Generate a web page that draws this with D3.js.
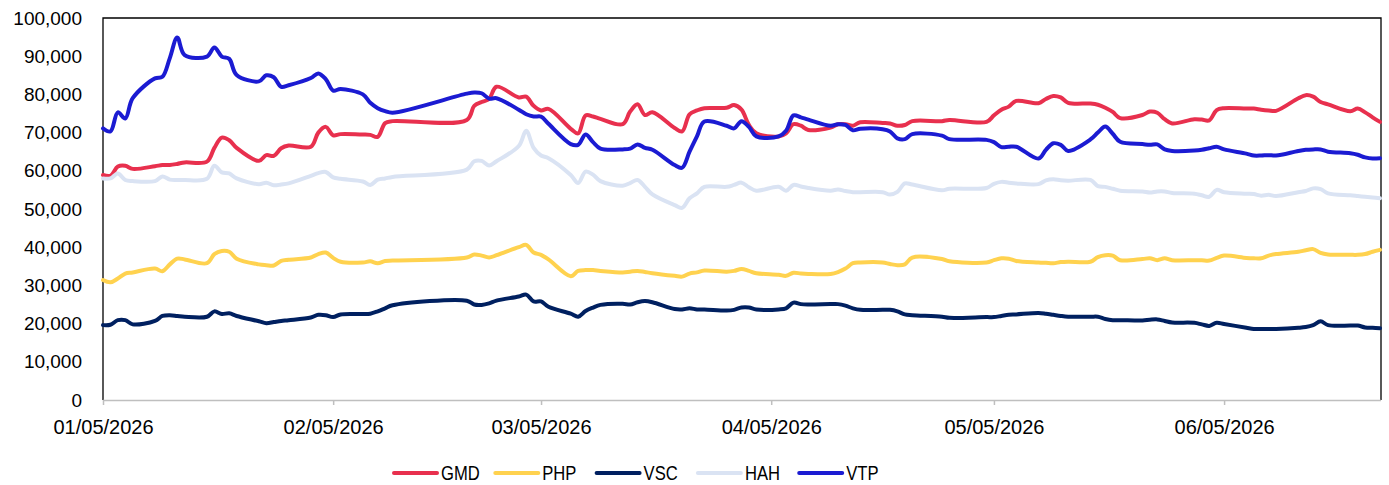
<!DOCTYPE html>
<html>
<head>
<meta charset="utf-8">
<script src="https://cdn.jsdelivr.net/npm/d3@7"></script>
<style>
  body { margin: 0; background: #fff; }
  svg text { font-family: "Liberation Sans", Arial, sans-serif; fill: #000; }
</style>
</head>
<body>
<div id="chart"></div>
<script>

// trading days (Tet and April/May holidays are missing)
const dates = [
  "2026-01-05","2026-01-06","2026-01-07","2026-01-08","2026-01-09",
  "2026-01-12","2026-01-13","2026-01-14","2026-01-15","2026-01-16",
  "2026-01-19","2026-01-20","2026-01-21","2026-01-22","2026-01-23",
  "2026-01-26","2026-01-27","2026-01-28","2026-01-29","2026-01-30",
  "2026-02-02","2026-02-03","2026-02-04","2026-02-05","2026-02-06",
  "2026-02-09","2026-02-10","2026-02-11","2026-02-12","2026-02-13",
  "2026-02-23","2026-02-24","2026-02-25","2026-02-26","2026-02-27",
  "2026-03-02","2026-03-03","2026-03-04","2026-03-05","2026-03-06",
  "2026-03-09","2026-03-10","2026-03-11","2026-03-12","2026-03-13",
  "2026-03-16","2026-03-17","2026-03-18","2026-03-19","2026-03-20",
  "2026-03-23","2026-03-24","2026-03-25","2026-03-26","2026-03-27",
  "2026-03-30","2026-03-31","2026-04-01","2026-04-02","2026-04-03",
  "2026-04-06","2026-04-07","2026-04-08","2026-04-09","2026-04-10",
  "2026-04-13","2026-04-14","2026-04-15","2026-04-16","2026-04-17",
  "2026-04-20","2026-04-21","2026-04-22","2026-04-23","2026-04-24",
  "2026-04-28","2026-04-29",
  "2026-05-04","2026-05-05","2026-05-06","2026-05-07","2026-05-08",
  "2026-05-11","2026-05-12","2026-05-13","2026-05-14","2026-05-15",
  "2026-05-18","2026-05-19","2026-05-20","2026-05-21","2026-05-22",
  "2026-05-25","2026-05-26","2026-05-27","2026-05-28","2026-05-29",
  "2026-06-01","2026-06-02","2026-06-03","2026-06-04","2026-06-05",
  "2026-06-08","2026-06-09","2026-06-10","2026-06-11","2026-06-12",
  "2026-06-15","2026-06-16","2026-06-17","2026-06-18","2026-06-19",
  "2026-06-22","2026-06-23","2026-06-24","2026-06-25","2026-06-26"
];

const gmd = [
  58900,58700,61100,61300,60500, 61200,61500,61500,61800,62200,
  62400,66000,68700,68000,66000, 62600,64100,63900,65900,66600,
  66300,70000,71500,69300,69600, 69500,69400,68900,72500,73000,
  73300,77000,78000,78800,82000, 79200,79400,77000,75800,76200,
  71000,69800,74500,74200,73600, 72200,75500,77400,74600,75300,
  71200,70300,74800,75800,76400, 76500,77200,76000,72000,69800,
  69000,69800,72200,71800,70700, 71300,72200,72200,71800,72700,
  72500,72400,71800,72000,73000, 73000,73300,
  72800,74500,76000,76800,78300, 77700,78800,79600,79200,77800,
  77600,77300,76500,75400,73800, 74600,75500,75200,73500,72400,
  73500,73400,73200,75900,76400, 76300,76300,76000,75800,75700,
  79000,79800,79400,78000,77400, 75600,76300,75300,74000,72800
];

const php = [
  31400,30800,31800,33100,33400, 34400,33700,35500,37000,36800,
  35800,38200,39000,38800,37000, 35500,35300,35200,36400,36700,
  37300,38200,38600,37200,36200, 36000,36300,35800,36400,36500,
  37300,38100,37800,37300,37900, 40000,40600,38600,38000,36800,
  32400,33800,34000,34000,33800, 33400,33600,33800,33500,33200,
  32500,32300,33100,33400,33900, 33600,33800,34300,33800,33200,
  32800,32500,33300,33100,33000, 33000,33500,34400,35800,36000,
  36000,35600,35300,35500,37300, 36900,36300,
  36000,36600,37100,37000,36400, 36000,35900,35800,36100,36200,
  36200,37400,37900,37800,36600, 36900,37100,36600,37100,36600,
  36600,36600,36500,37200,37800, 37200,37100,37100,37800,38200,
  38800,39200,39500,38500,38100, 38000,38000,38200,38800,39300
];

const vsc = [
  19600,19700,20900,20900,19800, 20700,22000,22200,22000,21800,
  21800,23200,22500,22700,22000, 20600,20100,20400,20700,20900,
  21600,22300,22200,21700,22400, 22500,22600,23200,24000,24800,
  26000,25000,24900,25300,26000, 27100,27600,25800,25800,24400,
  22600,21800,23300,24200,24900, 25200,25000,25600,25900,25600,
  23800,23700,24000,23700,23700, 23400,23600,24200,24200,23700,
  23700,24000,25500,25100,25000, 25100,25100,24700,24000,23600,
  23600,23600,23200,22400,22200, 21800,21500,
  21700,21700,22000,22300,22400, 22800,22600,22300,22000,21800,
  21800,21800,21200,20900,20900, 20800,21000,21100,20700,20300,
  20200,19800,19400,20200,19900, 18900,18600,18600,18600,18600,
  18900,19100,19600,20600,19600, 19500,19500,19000,18900,18800
];

const hah = [
  58000,58000,59300,57600,57300, 57300,58500,57700,57600,57600,
  57900,61300,59600,59300,58000, 56500,56900,56200,56400,56700,
  58700,59400,59700,58300,57900, 57200,56300,57700,58000,58400,
  60300,62500,62600,61400,62500, 66500,70500,66000,64000,63300,
  58900,56800,59800,59000,57300, 56100,56800,57600,55800,53800,
  51000,50300,52800,54100,55800, 55800,56300,56900,55700,54800,
  55800,54800,56300,55900,55500, 54800,55100,54700,54400,54400,
  54400,53800,54500,56700,56400, 54900,55300,
  55500,56600,57100,56900,56700, 56500,57500,57800,57500,57400,
  57600,56000,55800,55300,54800, 54600,54300,54600,54600,54200,
  54000,53600,53200,55000,54400, 54000,53900,53500,53700,53400,
  54400,54700,55400,55200,54100, 53600,53400,53200,53000,52800
];

const vtp = [
  71100,70300,75300,73700,79000, 84200,84600,89500,94900,90300,
  89900,92300,89900,89300,85100, 83400,85000,84500,82000,82400,
  84300,85500,84000,81000,81400, 80000,77800,76400,75600,75200,
  80200,80500,80300,78900,79000, 76000,74800,74200,74200,72300,
  67000,66800,69500,67500,65800, 65600,65800,66900,66000,65500,
  61500,60800,65000,69000,72900, 71800,71100,73000,71500,69000,
  69000,70500,74500,74000,73400, 71800,72200,72000,70600,71000,
  70900,70300,68500,68300,69600, 69200,68300,
  68100,67500,66200,66300,66300, 63200,65500,67200,66800,65200,
  68200,70000,71600,69700,67600, 67000,66800,66900,65600,65200,
  65300,65500,65900,66300,65600, 64500,64000,64000,64100,64000,
  65200,65500,65600,65600,65000, 64600,64200,63500,63200,63300
];

const seriesNames = ["GMD", "PHP", "VSC", "HAH", "VTP"];
const seriesValues = [gmd, php, vsc, hah, vtp];
const seriesColors = ["#E8304E", "#FFD24F", "#002060", "#DAE3F3", "#1B1BD2"];

const xTickDates = ["2026-01-05","2026-02-05","2026-03-05","2026-04-05","2026-05-05","2026-06-05"];
const yTicks = [0, 10000, 20000, 30000, 40000, 50000, 60000, 70000, 80000, 90000, 100000];


function drawChart(container) {

    const margin = {top: 18, right: 8, bottom: 85, left: 103};
    const width = 1389 - margin.left - margin.right;
    const height = 485 - margin.top - margin.bottom;

    const parse = d3.utcParse("%Y-%m-%d");
    const days = dates.map(parse);

    let x = d3.scaleUtc()
        .domain([days[0], days[days.length - 1]])
        .range([0, width - 1]);
    let y = d3.scaleLinear().domain([0, 100000]).range([height, 0]);

    const svg = d3.select(container)
        .append("svg")
        .attr("width", width + margin.left + margin.right)
        .attr("height", height + margin.top + margin.bottom);

    const g = svg.append("g")
        .attr("transform", "translate(" + margin.left + "," + margin.top + ")");

    // frame: black top / left / right
    g.append("path")
        .attr("d", "M0," + height + "V0H" + width + "V" + height)
        .attr("fill", "none")
        .attr("stroke", "#000")
        .attr("stroke-width", 1.3);

    // Y axis labels only
    const yAxis = g.append("g")
        .call(d3.axisLeft(y).tickValues(yTicks).tickSize(0).tickPadding(21).tickFormat(d3.format(",")));
    yAxis.select(".domain").remove();
    yAxis.selectAll("text")
        .style("font-size", "19px")
        .style("font-family", "'Liberation Sans', Arial, sans-serif");

    // X axis
    const xAxis = g.append("g")
        .attr("transform", "translate(0," + height + ")")
        .call(d3.axisBottom(x)
            .tickValues(xTickDates.map(parse))
            .tickSizeInner(5).tickSizeOuter(0).tickPadding(15)
            .tickFormat(d3.utcFormat("%m/%d/%Y")));
    xAxis.select(".domain")
        .attr("d", "M0,0.5H" + width)
        .attr("stroke", "#BFBFBF")
        .attr("stroke-width", 1.5);
    xAxis.selectAll(".tick line").attr("stroke", "#BFBFBF").attr("stroke-width", 1.5);
    xAxis.selectAll("text")
        .style("font-size", "20px")
        .style("font-family", "'Liberation Sans', Arial, sans-serif");

    // Define the line
    let valueline = d3.line()
        .x(function (d, i) { return x(days[i]); })
        .y(function (d) { return y(d); })
        .curve(d3.curveCatmullRom.alpha(0.5));

    seriesValues.forEach(function (vals, k) {
        g.append("path")
            .attr("class", "line")
            .attr("d", valueline(vals))
            .attr("fill", "none")
            .attr("stroke", seriesColors[k])
            .attr("stroke-width", 4)
            .attr("stroke-linejoin", "round")
            .attr("stroke-linecap", "round");
    });

    // legend (narrow type, squeezed if no narrow font is there)
    const legend = svg.append("g").attr("transform", "translate(394,473)");
    seriesNames.forEach(function (name, k) {
        const item = legend.append("g").attr("transform", "translate(" + (k * 101.3) + ",0)");
        item.append("line")
            .attr("x1", 0).attr("x2", 43)
            .attr("stroke", seriesColors[k])
            .attr("stroke-width", 4)
            .attr("stroke-linecap", "round");
        const t = item.append("text")
            .attr("x", 47)
            .attr("dy", "0.36em")
            .style("font-size", "20px")
            .style("font-family", "'Liberation Sans', Arial, sans-serif")
            .text(name);
        const len = t.node().getComputedTextLength();
        t.attr("textLength", len * 0.83).attr("lengthAdjust", "spacingAndGlyphs");
    });
}

drawChart("#chart");
</script>
</body>
</html>
